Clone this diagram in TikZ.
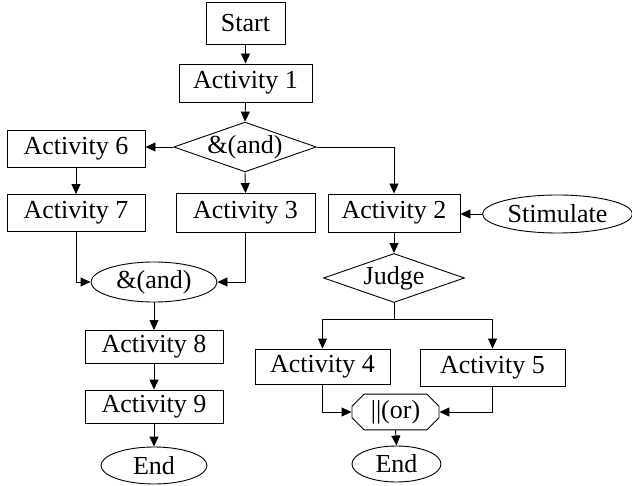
\documentclass[tikz,border=0pt]{standalone}
\usepackage{fontspec}
\setmainfont{Liberation Serif}
\usetikzlibrary{arrows.meta,shapes.geometric,shapes.misc}
\begin{document}
\begin{tikzpicture}[x=1pt,y=-1pt,
  every node/.style={font=\fontsize{26}{31}\selectfont, inner sep=0pt, draw, line width=0.9pt},
  box/.style={rectangle, minimum height=37pt},
  ell/.style={ellipse},
  dia/.style={diamond, aspect=2.86},
  gate/.style={chamfered rectangle, chamfered rectangle corners=all, chamfered rectangle xsep=6pt, chamfered rectangle ysep=6pt},
  arr/.style={line width=0.9pt, -{Triangle[length=10pt,width=9pt]}},
  ln/.style={line width=0.9pt}]
\useasboundingbox (0,0) rectangle (632,486);
\node[box, minimum width=79pt, minimum height=42pt] (start) at (245.5,23) {Start};
\node[box, minimum width=133pt, minimum height=38pt] (a1) at (245.5,83) {Activity 1};
\node[dia, minimum width=140pt, minimum height=49pt] (d1) at (245,147) {\&(and)};
\node[box, minimum width=138pt] (a6) at (76,149) {Activity 6};
\node[box, minimum width=138pt] (a7) at (76,213) {Activity 7};
\node[box, minimum width=139pt, minimum height=39pt] (a3) at (245.5,213) {Activity 3};
\node[box, minimum width=132pt, minimum height=38pt] (a2) at (394,213) {Activity 2};
\node[ell, minimum width=150pt, minimum height=38pt] (stim) at (557.5,214) {Stimulate};
\node[dia, minimum width=141pt, minimum height=49pt] (judge) at (394,278) {Judge};
\node[box, minimum width=135pt, minimum height=35pt] (a4) at (322.5,366.5) {Activity 4};
\node[box, minimum width=145pt, minimum height=37pt] (a5) at (492.5,367.5) {Activity 5};
\node[gate, minimum width=87pt, minimum height=34pt] (or) at (395.5,412) {||(or)};
\node[ell, minimum width=89pt, minimum height=36pt] (end2) at (396.5,464) {End};
\node[ell, minimum width=126pt, minimum height=40pt] (and) at (154,282) {\&(and)};
\node[box, minimum width=138pt, minimum height=33pt] (a8) at (154,347) {Activity 8};
\node[box, minimum width=138pt, minimum height=33pt] (a9) at (154,406.5) {Activity 9};
\node[ell, minimum width=106pt, minimum height=37pt] (end1) at (154,465.5) {End};
\coordinate (jb) at (394,319);
\draw[arr] (start.south) -- (a1.north);
\draw[arr] (a1.south) -- (d1.north);
\draw[arr] (d1.west) -- (d1.west -| a6.east);
\draw[arr] (d1.east) -| (a2.north);
\draw[arr] (d1.south) -- (a3.north);
\draw[arr] (a6.south) -- (a7.north);
\draw[arr] (stim.west) -- (stim.west -| a2.east);
\draw[arr] (a2.south) -- (judge.north);
\draw[ln] (judge.south) -- (jb);
\draw[arr] (jb) -| (a4.north);
\draw[arr] (jb) -| (a5.north);
\draw[arr] (a7.south) |- (and.west);
\draw[arr] (a3.south) |- (and.east);
\draw[arr] (and.south) -- (a8.north);
\draw[arr] (a8.south) -- (a9.north);
\draw[arr] (a9.south) -- (end1.north);
\draw[arr] (a4.south) |- (or.west);
\draw[arr] (a5.south) |- (or.east);
\draw[arr] (or.south) -- (end2.north);
\end{tikzpicture}
\end{document}
